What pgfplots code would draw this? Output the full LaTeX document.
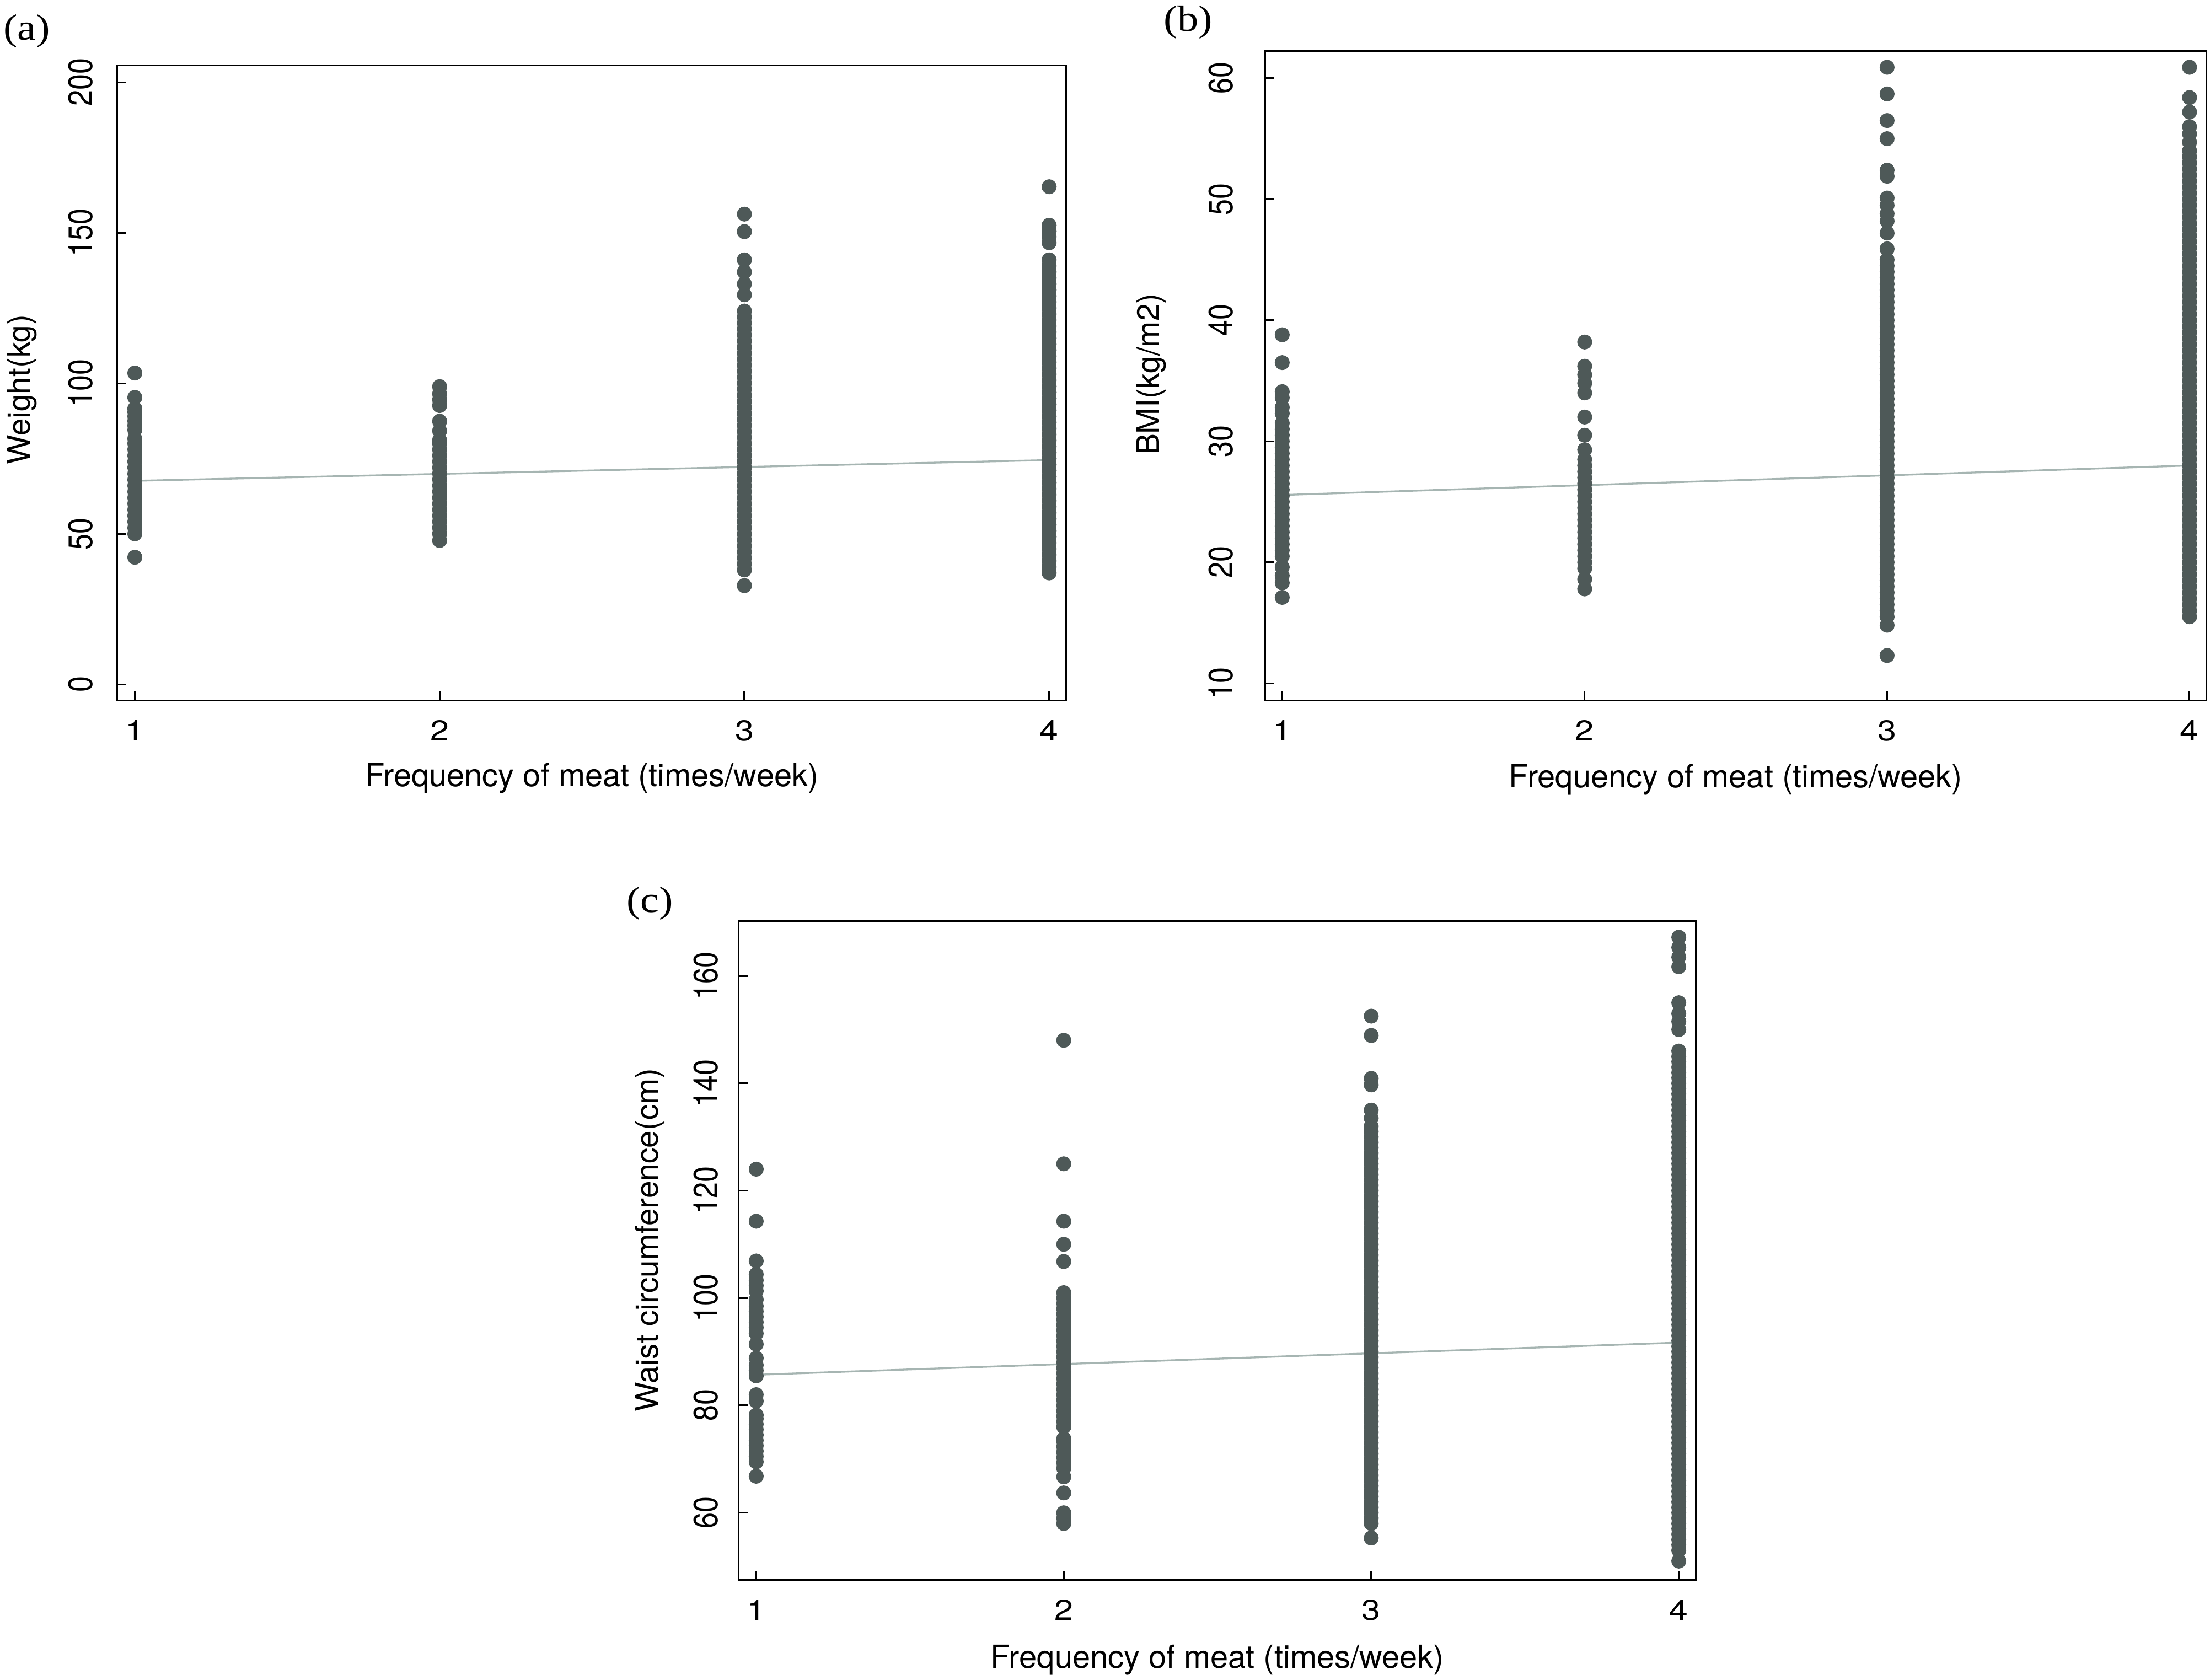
\documentclass[border=0pt]{standalone}
\usepackage{fontspec}
\usepackage{pgfplots}
\pgfplotsset{compat=1.18}
\setmainfont{TeX Gyre Heros}
\newfontfamily\hfont{TeX Gyre Heros}[FakeStretch=1.17]
\newfontfamily\vfont{TeX Gyre Heros}[FakeStretch=0.85]
\newfontfamily\pfont{Liberation Serif}[FakeStretch=1.15]
\definecolor{ptc}{RGB}{78,89,88}
\definecolor{fitc}{RGB}{166,181,178}
\pgfplotsset{
  panel/.style={
    scale only axis,
    anchor=south west,
    axis line style={black, line width=0.6pt},
    tick align=inside,
    xtick pos=bottom, ytick pos=left,
    major tick length=3.2pt,
    tick style={black, line width=0.6pt},
    xmin=0.943, xmax=4.056,
    xtick={1,2,3,4},
    /pgf/number format/assume math mode=true,
    xticklabel style={font=\hfont\fontsize{10.2}{12}\selectfont, inner sep=0pt, anchor=north},
    xticklabel shift=7pt,
    yticklabel style={font=\vfont\fontsize{12}{14}\selectfont, rotate=90, anchor=south, inner sep=0pt},
    xlabel={Frequency of meat (times/week)},
    clip=false,
  },
  pts/.style={only marks, mark=*, mark size=2.45pt, color=ptc, mark options={draw=none, fill=ptc}},
  fitline/.style={no marks, color=fitc, line width=0.65pt},
}
\begin{document}
\begin{tikzpicture}
\useasboundingbox (0,0) rectangle (784pt,596pt);
% ---------------- (a) Weight ----------------
\begin{axis}[panel,
  at={(41.65pt,347.55pt)}, width=336.6pt, height=225.35pt,
  ymin=-5.3, ymax=205.7, ytick={0,50,100,150,200},
  yticklabel shift=8.6pt,
  ylabel={Weight(kg)},
  ylabel style={at={(rel axis cs:-0.1004,0.489)}, rotate=0, anchor=center, font=\fontsize{11.1}{13}\selectfont},
  xlabel style={at={(rel axis cs:0.5,-0.1227)}, anchor=center, font=\fontsize{11.3}{13}\selectfont},
]
\addplot[pts] coordinates {
(1,42.2) (1,50) (1,52) (1,54) (1,56) (1,58) (1,60) (1,62) (1,64) (1,66) (1,68) (1,70) (1,72) (1,74) (1,76) (1,78) (1,80) (1,81.6)
(1,84.5) (1,86) (1,87.5) (1,89) (1,90.5) (1,91.6) (1,95.3) (1,103.4)
(2,47.8) (2,50) (2,52) (2,54) (2,56) (2,58) (2,60) (2,62) (2,64) (2,66) (2,68) (2,70) (2,72) (2,74) (2,76) (2,78) (2,80) (2,81.1)
(2,84.2) (2,87.4) (2,92.6) (2,94.5) (2,96.5) (2,98.9)
(3,32.8) (3,38) (3,40) (3,42) (3,44) (3,46) (3,48) (3,50) (3,52) (3,54) (3,56) (3,58) (3,60) (3,62) (3,64) (3,66) (3,68) (3,70)
(3,72) (3,74) (3,76) (3,78) (3,80) (3,82) (3,84) (3,86) (3,88) (3,90) (3,92) (3,94) (3,96) (3,98) (3,100) (3,102) (3,104) (3,106)
(3,108) (3,110) (3,112) (3,114) (3,116) (3,118) (3,120) (3,122) (3,124) (3,129.4) (3,133) (3,137) (3,141) (3,150.4) (3,156.2)
(4,37) (4,39) (4,41) (4,43) (4,45) (4,47) (4,49) (4,51) (4,53) (4,55) (4,57) (4,59) (4,61) (4,63) (4,65) (4,67) (4,69) (4,71)
(4,73) (4,75) (4,77) (4,79) (4,81) (4,83) (4,85) (4,87) (4,89) (4,91) (4,93) (4,95) (4,97) (4,99) (4,101) (4,103) (4,105) (4,107)
(4,109) (4,111) (4,113) (4,115) (4,117) (4,119) (4,121) (4,123) (4,125) (4,127) (4,129) (4,131) (4,133) (4,135) (4,137) (4,139)
(4,141) (4,146.7) (4,148.7) (4,150.5) (4,152.5) (4,165.3)
};
\addplot[fitline] coordinates {(1,67.6) (4,74.5)};
\end{axis}
% ---------------- (b) BMI ----------------
\begin{axis}[panel,
  at={(448.75pt,347.55pt)}, width=334pt, height=230.45pt,
  ymin=8.6, ymax=62.27, ytick={10,20,30,40,50,60},
  yticklabel shift=11.1pt,
  ylabel={BMI(kg/m2)},
  ylabel style={at={(rel axis cs:-0.1208,0.502)}, rotate=0, anchor=center, font=\fontsize{11.1}{13}\selectfont},
  xlabel style={at={(rel axis cs:0.5,-0.1215)}, anchor=center, font=\fontsize{11.3}{13}\selectfont},
]
\addplot[pts] coordinates {
(1,17.1) (1,18.3) (1,18.9) (1,19.6) (1,20.5) (1,21) (1,21.5) (1,22) (1,22.5) (1,23) (1,23.5) (1,24) (1,24.5) (1,25) (1,25.5) (1,26)
(1,26.5) (1,27) (1,27.5) (1,28) (1,28.5) (1,29) (1,29.5) (1,30) (1,30.5) (1,31) (1,31.5) (1,32.3) (1,32.8) (1,33.6) (1,34.1) (1,36.5) (1,38.8)
(2,17.8) (2,18.6) (2,19.5) (2,20) (2,20.5) (2,21) (2,21.5) (2,22) (2,22.5) (2,23) (2,23.5) (2,24) (2,24.5) (2,25) (2,25.5) (2,26)
(2,26.5) (2,27) (2,27.5) (2,28) (2,28.5) (2,29.3) (2,30.5) (2,32.0) (2,34.0) (2,34.8) (2,35.5) (2,36.2) (2,38.2)
(3,12.3) (3,14.8) (3,15.5) (3,16) (3,16.5) (3,17) (3,17.5) (3,18) (3,18.5) (3,19) (3,19.5) (3,20) (3,20.5) (3,21) (3,21.5) (3,22)
(3,22.5) (3,23) (3,23.5) (3,24) (3,24.5) (3,25) (3,25.5) (3,26) (3,26.5) (3,27) (3,27.5) (3,28) (3,28.5) (3,29) (3,29.5) (3,30)
(3,30.5) (3,31) (3,31.5) (3,32) (3,32.5) (3,33) (3,33.5) (3,34) (3,34.5) (3,35) (3,35.5) (3,36) (3,36.5) (3,37) (3,37.5) (3,38)
(3,38.5) (3,39) (3,39.5) (3,40) (3,40.5) (3,41) (3,41.5) (3,42) (3,42.5) (3,43) (3,43.5) (3,44) (3,44.5) (3,45) (3,45.9) (3,47.2)
(3,48.2) (3,48.8) (3,49.5) (3,50.1) (3,51.9) (3,52.4) (3,55.0) (3,56.5) (3,58.7) (3,60.9)
(4,15.5) (4,16) (4,16.5) (4,17) (4,17.5) (4,18) (4,18.5) (4,19) (4,19.5) (4,20) (4,20.5) (4,21) (4,21.5) (4,22) (4,22.5) (4,23)
(4,23.5) (4,24) (4,24.5) (4,25) (4,25.5) (4,26) (4,26.5) (4,27) (4,27.5) (4,28) (4,28.5) (4,29) (4,29.5) (4,30) (4,30.5) (4,31)
(4,31.5) (4,32) (4,32.5) (4,33) (4,33.5) (4,34) (4,34.5) (4,35) (4,35.5) (4,36) (4,36.5) (4,37) (4,37.5) (4,38) (4,38.5) (4,39)
(4,39.5) (4,40) (4,40.5) (4,41) (4,41.5) (4,42) (4,42.5) (4,43) (4,43.5) (4,44) (4,44.5) (4,45) (4,45.5) (4,46) (4,46.5) (4,47)
(4,47.5) (4,48) (4,48.5) (4,49) (4,49.5) (4,50) (4,50.5) (4,51) (4,51.5) (4,52) (4,52.5) (4,53) (4,53.5) (4,54.0) (4,54.7) (4,55.4)
(4,56.0) (4,57.2) (4,58.4) (4,60.9)
};
\addplot[fitline] coordinates {(1,25.56) (4,28.0)};
\end{axis}
% ---------------- (c) Waist ----------------
\begin{axis}[panel,
  at={(262.05pt,35.5pt)}, width=339.6pt, height=233.7pt,
  ymin=47.5, ymax=170.2, ytick={60,80,100,120,140,160},
  yticklabel shift=7pt, xticklabel shift=6.8pt,
  ylabel={Waist circumference(cm)},
  ylabel style={at={(rel axis cs:-0.0926,0.516)}, rotate=0, anchor=center, font=\fontsize{11.1}{13}\selectfont},
  xlabel style={at={(rel axis cs:0.5,-0.122)}, anchor=center, font=\fontsize{11.3}{13}\selectfont},
]
\addplot[pts] coordinates {
(1,66.8) (1,69.5) (1,70.5) (1,71.5) (1,72.5) (1,73.5) (1,74.5) (1,75.5) (1,76.5) (1,77.5) (1,78.2) (1,80.8) (1,82) (1,85.5) (1,86.5)
(1,87.5) (1,88.8) (1,91.4) (1,93.4) (1,94.5) (1,95.5) (1,96.5) (1,97.5) (1,98.5) (1,99.7) (1,101.3) (1,102.3) (1,103.3) (1,104.4)
(1,106.9) (1,114.3) (1,124)
(2,58) (2,59) (2,60) (2,63.7) (2,66.7) (2,68.3) (2,69.3) (2,70.3) (2,71.3) (2,72.3) (2,73.3) (2,73.8) (2,76) (2,77) (2,78) (2,79)
(2,80) (2,81) (2,82) (2,83) (2,84) (2,85) (2,86) (2,87) (2,88) (2,89) (2,90) (2,91) (2,92) (2,93) (2,94) (2,95) (2,96) (2,97)
(2,98) (2,99) (2,100) (2,101) (2,106.8) (2,110) (2,114.3) (2,125) (2,148)
(3,55.3) (3,58) (3,59) (3,60) (3,61) (3,62) (3,63) (3,64) (3,65) (3,66) (3,67) (3,68) (3,69) (3,70) (3,71) (3,72) (3,73) (3,74)
(3,75) (3,76) (3,77) (3,78) (3,79) (3,80) (3,81) (3,82) (3,83) (3,84) (3,85) (3,86) (3,87) (3,88) (3,89) (3,90) (3,91) (3,92)
(3,93) (3,94) (3,95) (3,96) (3,97) (3,98) (3,99) (3,100) (3,101) (3,102) (3,103) (3,104) (3,105) (3,106) (3,107) (3,108) (3,109)
(3,110) (3,111) (3,112) (3,113) (3,114) (3,115) (3,116) (3,117) (3,118) (3,119) (3,120) (3,121) (3,122) (3,123) (3,124) (3,125)
(3,126) (3,127) (3,128) (3,129) (3,130) (3,131) (3,132) (3,133.5) (3,135) (3,139.7) (3,140.9) (3,148.9) (3,152.5)
(4,51) (4,53) (4,54) (4,55) (4,56) (4,57) (4,58) (4,59) (4,60) (4,61) (4,62) (4,63) (4,64) (4,65) (4,66) (4,67) (4,68) (4,69)
(4,70) (4,71) (4,72) (4,73) (4,74) (4,75) (4,76) (4,77) (4,78) (4,79) (4,80) (4,81) (4,82) (4,83) (4,84) (4,85) (4,86) (4,87)
(4,88) (4,89) (4,90) (4,91) (4,92) (4,93) (4,94) (4,95) (4,96) (4,97) (4,98) (4,99) (4,100) (4,101) (4,102) (4,103) (4,104)
(4,105) (4,106) (4,107) (4,108) (4,109) (4,110) (4,111) (4,112) (4,113) (4,114) (4,115) (4,116) (4,117) (4,118) (4,119) (4,120)
(4,121) (4,122) (4,123) (4,124) (4,125) (4,126) (4,127) (4,128) (4,129) (4,130) (4,131) (4,132) (4,133) (4,134) (4,135) (4,136)
(4,137) (4,138) (4,139) (4,140) (4,141) (4,142) (4,143) (4,144) (4,145) (4,146) (4,150) (4,151.5) (4,153) (4,155) (4,161.7)
(4,163.5) (4,165.3) (4,167.2)
};
\addplot[fitline] coordinates {(1,85.7) (4,91.7)};
\end{axis}
% panel letters
\node[font=\pfont\fontsize{13}{15}\selectfont] at (9.5pt,585pt) {(a)};
\node[font=\pfont\fontsize{13}{15}\selectfont] at (421.5pt,588pt) {(b)};
\node[font=\pfont\fontsize{13}{15}\selectfont] at (230.6pt,275.5pt) {(c)};
\end{tikzpicture}
\end{document}
